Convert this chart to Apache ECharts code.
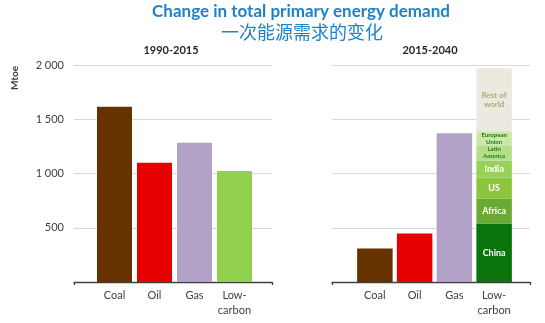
<!DOCTYPE html>
<html>
<head>
<meta charset="utf-8">
<script src="https://cdn.jsdelivr.net/npm/echarts@6/dist/echarts.min.js"></script>
<style>html,body{margin:0;padding:0;background:#fff;}#c{width:545px;height:323px;}</style>
</head>
<body>
<div id="c"></div>
<script>
var categories = ['Coal', 'Oil', 'Gas', 'Low-\ncarbon'];
var fuelColors = ['#663300', '#e60000', '#b3a2c7', '#92d050'];
var values1990_2015 = [1615, 1098, 1283, 1024];
var values2015_2040 = [308, 447, 1370];
var regions = ['China', 'Africa', 'US', 'India', 'Latin\nAmerica', 'European\nUnion', 'Rest of\nworld'];
var regionValues = [540, 230, 190, 160, 140, 130, 580];
var regionColors = ['#0b730b', '#6aaa34', '#8cc63f', '#98d158', '#b6de87', '#cbe8a8', '#ece9e0'];
var regionLabelColors = ['#ffffff', '#ffffff', '#ffffff', '#ffffff', '#1f7a1f', '#1f7a1f', '#b3a57a'];
var regionLabelSizes = [9, 9, 9, 9, 6, 6, 8];
var yTicks = [0, 500, 1000, 1500, 2000];

var FONT = 'Lato';
var yMin = yTicks[0], yMax = yTicks[yTicks.length - 1], yStep = yTicks[1] - yTicks[0];

function fmt(v) {
  if (v === 0) return '';
  var s = String(v);
  return s.length > 3 ? s.slice(0, s.length - 3) + ' ' + s.slice(-3) : s;
}

var chart = echarts.init(document.getElementById('c'), null, {renderer: 'canvas'});

var gridTop = 65, gridH = 217;
var grids = [
  {left: 74, width: 198, top: gridTop, height: gridH},
  {left: 94.5, width: 160, top: gridTop, height: gridH},
  {left: 332, width: 198, top: gridTop, height: gridH},
  {left: 355, width: 159, top: gridTop, height: gridH}
];

function frameX(gi) {
  return {
    type: 'category', gridIndex: gi, data: [''], boundaryGap: true,
    axisLine: {show: true, lineStyle: {color: '#404040', width: 1.3}},
    axisTick: {show: true, length: 3, lineStyle: {color: '#404040', width: 1.3}},
    axisLabel: {show: false}
  };
}
function barX(gi) {
  return {
    type: 'category', gridIndex: gi, data: categories,
    axisLine: {show: false}, axisTick: {show: false},
    axisLabel: {show: true, color: '#404040', fontFamily: FONT, fontSize: 11, margin: 6, lineHeight: 15, interval: 0}
  };
}
function yAx(gi, showLabels, showSplit) {
  return {
    type: 'value', gridIndex: gi, min: yMin, max: yMax, interval: yStep,
    axisLine: {show: false}, axisTick: {show: false},
    axisLabel: {show: showLabels, formatter: fmt, color: '#404040', fontFamily: FONT, fontSize: 11, margin: 10},
    splitLine: {show: showSplit, lineStyle: {color: '#d9d9d9', width: 1}}
  };
}

var series = [];
series.push({
  type: 'bar', xAxisIndex: 1, yAxisIndex: 1, barWidth: 35,
  data: values1990_2015.map(function (v, i) { return {value: v, itemStyle: {color: fuelColors[i]}}; })
});
series.push({
  type: 'bar', xAxisIndex: 3, yAxisIndex: 3, barWidth: 35.5, stack: 'r',
  data: values2015_2040.map(function (v, i) { return {value: v, itemStyle: {color: fuelColors[i]}}; }).concat(['-'])
});
regions.forEach(function (r, k) {
  series.push({
    type: 'bar', name: r, xAxisIndex: 3, yAxisIndex: 3, barWidth: 35.5, stack: 'r',
    itemStyle: {color: regionColors[k]},
    label: {show: true, position: 'inside', formatter: r, color: regionLabelColors[k],
      fontFamily: FONT, fontWeight: 'bold', fontSize: regionLabelSizes[k], lineHeight: regionLabelSizes[k] + 1},
    data: ['-', '-', '-', regionValues[k]]
  });
});

chart.setOption({
  animation: false,
  backgroundColor: '#ffffff',
  title: [
    {text: 'Change in total primary energy demand', left: 301, top: 3, textAlign: 'center', padding: 0,
      textStyle: {color: '#1f82c8', fontFamily: FONT, fontWeight: 'bold', fontSize: 17}},
    {text: '一次能源需求的变化', left: 302, top: 23, textAlign: 'center', padding: 0,
      textStyle: {color: '#1f82c8', fontFamily: 'Noto Sans CJK SC', fontWeight: 'normal', fontSize: 18}},
    {text: '1990-2015', left: 171, top: 45, textAlign: 'center', padding: 0,
      textStyle: {color: '#262626', fontFamily: FONT, fontWeight: 'bold', fontSize: 11}},
    {text: '2015-2040', left: 430, top: 45, textAlign: 'center', padding: 0,
      textStyle: {color: '#262626', fontFamily: FONT, fontWeight: 'bold', fontSize: 11}}
  ],
  graphic: [
    {type: 'text', left: 10, top: 66, rotation: Math.PI / 2,
      style: {text: 'Mtoe', fill: '#404040', font: 'bold 10px ' + FONT}}
  ],
  grid: grids,
  xAxis: [frameX(0), barX(1), frameX(2), barX(3)],
  yAxis: [yAx(0, true, true), yAx(1, false, false), yAx(2, false, true), yAx(3, false, false)],
  series: series
});
</script>
</body>
</html>
